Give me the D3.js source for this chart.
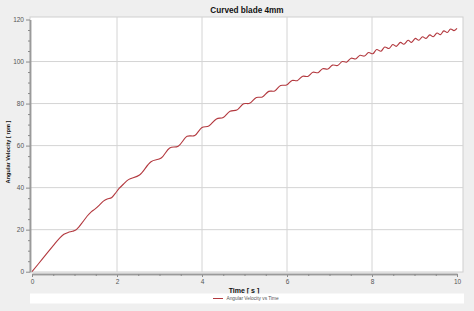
<!DOCTYPE html>
<html>
<head>
<meta charset="utf-8">
<script src="https://cdn.jsdelivr.net/npm/d3@7"></script>
<style>
  html, body { margin: 0; padding: 0; background: #efefef; }
  svg { display: block; }
  text { font-family: "Liberation Sans", Arial, sans-serif; }
</style>
</head>
<body>
<svg id="chart" width="474" height="311"></svg>
<script>
// valeurs
var titre = "Curved blade 4mm";
var labelX = "Time [ s ]";
var labelY = "Angular Velocity [ rpm ]";
var serieNom = "Angular Velocity vs Time";

var ticksX = [0, 2, 4, 6, 8, 10];
var ticksY = [0, 20, 40, 60, 80, 100, 120];
var grilleX = [2, 4, 6, 8];
var grilleY = [20, 40, 60, 80, 100];

// temps [s]
var temps = [
  0, 0.25, 0.5, 0.65, 0.75, 0.85, 0.95, 1.03, 1.1, 1.2, 1.3, 1.4, 1.48, 1.58, 1.68, 1.77, 1.87, 1.95, 2.05, 2.15,
  2.27, 2.53, 2.80, 3.04, 3.24, 3.44, 3.65, 3.83, 4.00, 4.16, 4.34, 4.50, 4.66, 4.82, 4.98, 5.12,
  5.28, 5.42, 5.57, 5.71, 5.85, 5.99, 6.12, 6.24, 6.37, 6.49, 6.61, 6.73, 6.84, 6.96,
  7.07, 7.19, 7.30, 7.40, 7.51, 7.61, 7.72, 7.82, 7.92, 8.02, 8.11, 8.21, 8.30, 8.40,
  8.49, 8.57, 8.67, 8.75, 8.85, 8.93, 9.02, 9.10, 9.19, 9.27, 9.36, 9.44, 9.53, 9.61,
  9.69, 9.77, 9.85, 9.93, 10.0
];
// vitesse angulaire [rpm]
var vitesse = [
  0, 6.2, 12.4, 16.0, 17.8, 18.7, 19.2, 19.8, 21.2, 23.8, 26.5, 28.6, 29.8, 31.6, 33.6, 34.6, 35.2, 37.0, 39.6, 41.6,
  43.8, 46.0, 52.3, 54.1, 58.9, 59.7, 64.4, 64.8, 68.6, 69.3, 72.7, 73.4, 76.4, 76.9, 79.9, 80.1,
  82.9, 83.1, 85.8, 86.0, 88.6, 88.8, 91.0, 90.9, 93.0, 92.9, 94.9, 94.7, 96.6, 96.4,
  98.3, 98.1, 100.0, 99.7, 101.6, 101.2, 103.0, 102.6, 104.3, 103.7, 105.7, 104.9, 106.9, 106.2,
  108.1, 107.2, 109.1, 108.2, 110.1, 109.1, 111.0, 110.1, 111.8, 111.0, 112.7, 111.8, 113.6, 112.8,
  114.6, 113.8, 115.5, 114.7, 115.8
];

var couleur = "#b3393f";

var svg = d3.select("#chart");
var data = temps.map(function(t, i) { return {t: t, v: vitesse[i]}; });

var x = d3.scaleLinear().domain([0, 10]).range([32, 457]);
var y = d3.scaleLinear().domain([0, 120]).range([271.7, 19.5]);

// zone de tracé
svg.append("rect")
    .attr("x", 30).attr("y", 17)
    .attr("width", 433).attr("height", 255)
    .attr("fill", "#fff")
    .attr("stroke", "#cfcfcf");

// grille
svg.append("g").selectAll("line").data(grilleX).enter().append("line")
    .attr("x1", function(d) { return x(d); }).attr("x2", function(d) { return x(d); })
    .attr("y1", 17).attr("y2", 272)
    .attr("stroke", "#d4d4d4");
svg.append("g").selectAll("line").data(grilleY).enter().append("line")
    .attr("x1", 30).attr("x2", 463)
    .attr("y1", function(d) { return y(d); }).attr("y2", function(d) { return y(d); })
    .attr("stroke", "#d4d4d4");

// axes
var mineursY = d3.range(0, 121, 5).filter(function(d) { return d % 20 !== 0; });
var mineursX = d3.range(0, 10.01, 0.5).filter(function(d) { return d % 2 !== 0; });

svg.append("g").attr("class", "axis").attr("transform", "translate(30,0)")
    .call(d3.axisLeft(y).tickValues(ticksY).tickSize(4).tickSizeOuter(0).tickPadding(2));
svg.append("g").attr("class", "axis minor").attr("transform", "translate(30,0)")
    .call(d3.axisLeft(y).tickValues(mineursY).tickSize(2).tickSizeOuter(0).tickFormat(""));

svg.append("g").attr("class", "axis").attr("transform", "translate(0,274)")
    .call(d3.axisBottom(x).tickValues(ticksX).tickSize(3).tickSizeOuter(0).tickPadding(2));
svg.append("g").attr("class", "axis minor").attr("transform", "translate(0,274)")
    .call(d3.axisBottom(x).tickValues(mineursX).tickSize(2).tickSizeOuter(0).tickFormat(""));

svg.selectAll(".axis path").attr("stroke", "#9a9a9a").attr("stroke-width", 1.5);
svg.selectAll(".axis line").attr("stroke", "#8a8a8a");
svg.selectAll(".axis text")
    .attr("fill", "#555")
    .style("font-size", "6.5px")
    .style("font-family", "'Liberation Sans', Arial, sans-serif");

// courbe
var ligne = d3.line()
    .x(function(d) { return x(d.t); })
    .y(function(d) { return y(d.v); })
    .curve(d3.curveCatmullRom.alpha(0.5));

svg.append("path")
    .datum(data)
    .attr("d", ligne)
    .attr("fill", "none")
    .attr("stroke", couleur)
    .attr("stroke-width", 1.1);

// textes
svg.append("text")
    .attr("x", 247).attr("y", 13)
    .attr("text-anchor", "middle")
    .style("font-size", "8.2px").style("font-weight", "bold")
    .attr("fill", "#111")
    .text(titre);

svg.append("text")
    .attr("x", 244).attr("y", 292.5)
    .attr("text-anchor", "middle")
    .style("font-size", "7px").style("font-weight", "bold")
    .attr("fill", "#111")
    .text(labelX);

svg.append("text")
    .attr("transform", "translate(9.5,152) rotate(-90)")
    .attr("text-anchor", "middle")
    .style("font-size", "5.6px").style("font-weight", "bold")
    .attr("fill", "#111")
    .text(labelY);

// légende
var leg = svg.append("g");
leg.append("rect")
    .attr("x", 30).attr("y", 293.5)
    .attr("width", 434).attr("height", 10)
    .attr("fill", "#fff");
leg.append("line")
    .attr("x1", 213).attr("x2", 223)
    .attr("y1", 298.5).attr("y2", 298.5)
    .attr("stroke", couleur).attr("stroke-width", 1);
leg.append("text")
    .attr("x", 226.5).attr("y", 300.2)
    .style("font-size", "4.8px")
    .attr("fill", "#555")
    .text(serieNom);
</script>
</body>
</html>
